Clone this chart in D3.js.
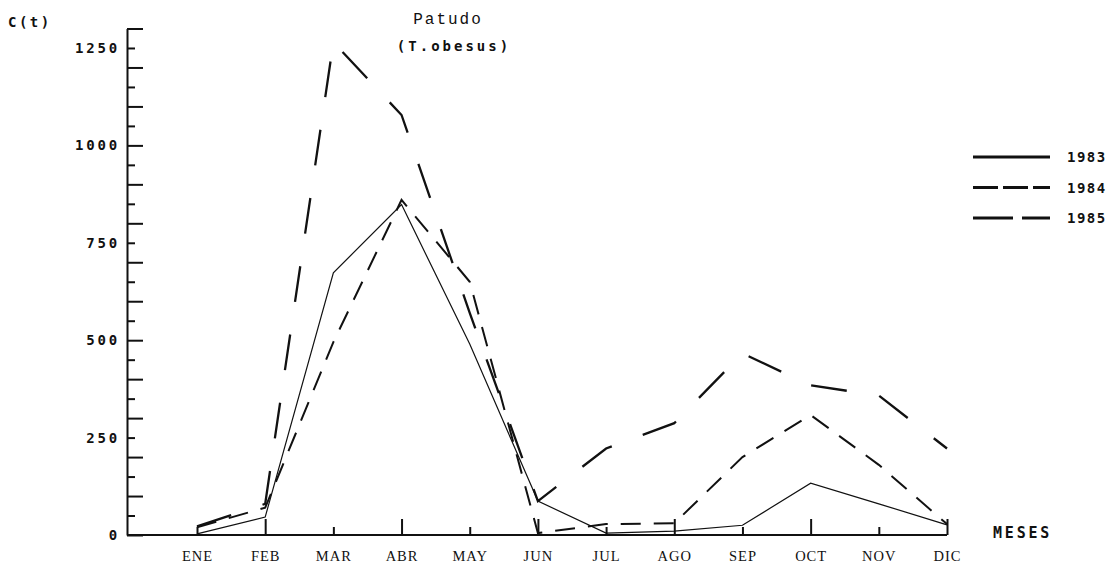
<!DOCTYPE html>
<html lang="es">

<head>
    <meta charset="UTF-8">
    <title>Patudo</title>
    <script src="https://cdn.jsdelivr.net/npm/d3@7"></script>
    <style>
        body { margin: 0; background: #fff; }
        .dot { font-family: "DejaVu Sans Mono", monospace; font-weight: bold; fill: #111; }
    </style>
</head>

<body>
    <svg width="1114" height="568" id="mainsvg"></svg>
    <script>
        // catch per month (t)
        const months = ['ENE', 'FEB', 'MAR', 'ABR', 'MAY', 'JUN', 'JUL', 'AGO', 'SEP', 'OCT', 'NOV', 'DIC'];
        const c1983 = [3, 46, 673, 848, 490, 87, 5, 10, 25, 133, 80, 26];
        const c1984 = [20, 70, 495, 860, 650, 5, 28, 30, 200, 308, 180, 28];
        const c1985 = [22, 80, 1265, 1078, 570, 87, 222, 287, 466, 384, 358, 222];
        const years = ['1983', '1984', '1985'];
        const yLabels = [0, 250, 500, 750, 1000, 1250];
        const yMinor = d3.range(0, 1301, 50);

        const svg = d3.select('#mainsvg');
        const axisX = 127; // y axis position
        const x = d3.scalePoint().domain(months).range([197, 947]);
        const y = d3.scaleLinear().domain([0, 1300]).range([535, 28.5]);

        // y axis, ticks pointing inward
        const yAxis = d3.axisLeft(y).tickValues(yMinor)
            .tickSizeInner(-16).tickSizeOuter(0).tickPadding(7)
            .tickFormat(d => yLabels.includes(d) ? d : '');
        const gy = svg.append('g').attr('transform', `translate(${axisX},0)`).call(yAxis);
        gy.select('.domain').attr('stroke', '#111').attr('stroke-width', 2);
        gy.selectAll('.tick line').attr('stroke', '#111').attr('stroke-width', 2)
            .attr('x2', d => d % 100 === 0 ? 16 : 8);
        gy.selectAll('.tick text').attr('class', 'dot').style('font-size', '14px')
            .style('letter-spacing', '2.8px');

        // x axis
        const xAxis = d3.axisBottom(x).tickSizeInner(-16).tickSizeOuter(0).tickPadding(16);
        const gx = svg.append('g').attr('transform', `translate(0,${y(0)})`).call(xAxis);
        gx.select('.domain').remove();
        gx.selectAll('.tick line').attr('stroke', '#111').attr('stroke-width', 2)
            .attr('y2', (d, i) => i % 2 === 1 ? -16 : -8);
        gx.selectAll('.tick text')
            .style('font-family', '"Liberation Serif", serif').style('font-size', '14.5px')
            .style('letter-spacing', '1px').attr('fill', '#111');
        svg.append('line').attr('x1', axisX).attr('x2', x('DIC'))
            .attr('y1', y(0)).attr('y2', y(0)).attr('stroke', '#111').attr('stroke-width', 2);

        // series
        const series = [
            { name: years[0], values: c1983, width: 1.2, dash: null, legendDash: null },
            { name: years[1], values: c1984, width: 2, dash: '20,13', legendDash: '25,5' },
            { name: years[2], values: c1985, width: 2.3, dash: '36,33', legendDash: '40,9' }
        ];
        const line = d3.line().x((d, i) => x(months[i])).y(d => y(d));
        svg.selectAll('.serie').data(series).join('path')
            .attr('class', 'serie')
            .attr('d', d => line(d.values))
            .attr('fill', 'none').attr('stroke', '#111')
            .attr('stroke-width', d => d.width)
            .attr('stroke-dasharray', d => d.dash);

        // legend
        const lg = svg.append('g').attr('transform', 'translate(973,157)');
        const item = lg.selectAll('g').data(series).join('g')
            .attr('transform', (d, i) => `translate(0,${i * 30.5})`);
        item.append('line').attr('x1', 0).attr('x2', 77)
            .attr('stroke', '#111').attr('stroke-width', 3)
            .attr('stroke-dasharray', d => d.legendDash);
        item.append('text').attr('class', 'dot').attr('x', 94).attr('y', 5)
            .style('font-size', '14px').style('letter-spacing', '1.5px')
            .text(d => d.name);

        // titles and axis names
        svg.append('text').attr('x', 448).attr('y', 24).attr('text-anchor', 'middle')
            .style('font-family', '"Liberation Mono", monospace').style('font-size', '16px')
            .style('letter-spacing', '2px').attr('fill', '#111').text('Patudo');
        svg.append('text').attr('class', 'dot').attr('x', 454).attr('y', 51).attr('text-anchor', 'middle')
            .style('font-size', '14px').style('letter-spacing', '3px').text('(T.obesus)');
        svg.append('text').attr('class', 'dot').attr('x', 8).attr('y', 27)
            .style('font-size', '14px').style('letter-spacing', '2.5px').text('C(t)');
        svg.append('text').attr('class', 'dot').attr('x', 993).attr('y', 538)
            .style('font-size', '15px').style('letter-spacing', '2.8px').text('MESES');
    </script>
</body>

</html>
